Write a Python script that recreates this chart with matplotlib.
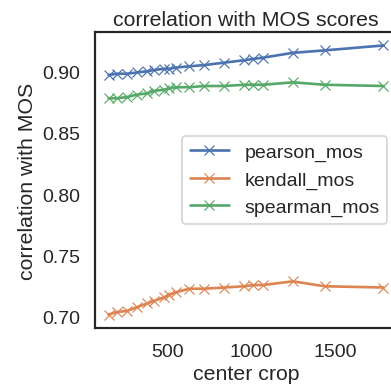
import matplotlib
matplotlib.use("Agg")
import matplotlib.pyplot as plt
import seaborn as sns

######################################################################
# data
######################################################################

crop = [150, 200, 260, 320, 380, 420, 480, 512, 550, 630, 720, 840,
        960, 1010, 1070, 1250, 1440, 1790]

pearson_mos = [0.897, 0.898, 0.898, 0.899, 0.900, 0.901, 0.902, 0.902, 0.903,
               0.904, 0.905, 0.907, 0.909, 0.910, 0.911, 0.915, 0.917, 0.921]
kendall_mos = [0.702, 0.704, 0.705, 0.708, 0.711, 0.713, 0.716, 0.718, 0.720,
               0.723, 0.723, 0.724, 0.725, 0.726, 0.726, 0.729, 0.725, 0.724]
spearman_mos = [0.878, 0.878, 0.879, 0.881, 0.882, 0.884, 0.885, 0.886, 0.887,
                0.887, 0.888, 0.888, 0.889, 0.889, 0.889, 0.891, 0.889, 0.888]

######################################################################
# plot
######################################################################

sns.set_theme(context="talk", style="white", font="Liberation Sans")

dpi = 85
fig = plt.figure(figsize=(392 / dpi, 391 / dpi), dpi=dpi)
ax = fig.add_axes([0.242, 0.1586, 0.771, 0.757])

ax.plot(crop, pearson_mos, marker="x", label="pearson_mos")
ax.plot(crop, kendall_mos, marker="x", label="kendall_mos")
ax.plot(crop, spearman_mos, marker="x", label="spearman_mos")

ax.set_xticks([500, 1000, 1500])
ax.set_yticks([0.70, 0.75, 0.80, 0.85, 0.90])
ax.set_xlabel("center crop")
ax.set_ylabel("correlation with MOS")
ax.set_title("correlation with MOS scores")
ax.legend(loc="center right")

fig.savefig("out.png", dpi=dpi)
